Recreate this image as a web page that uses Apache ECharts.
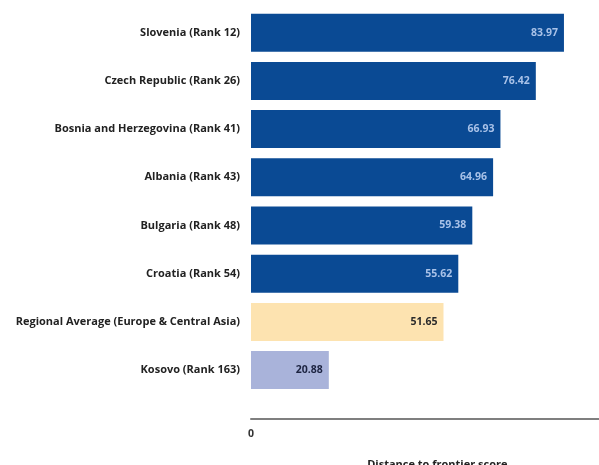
<!DOCTYPE html>
<html>
<head>
<meta charset="utf-8">
<script src="https://cdn.jsdelivr.net/npm/echarts@6/dist/echarts.min.js"></script>
<style>html,body{margin:0;padding:0;background:#fff;}#c{width:599px;height:465px;}</style>
</head>
<body>
<div id="c"></div>
<script>
const categories = [
  "Slovenia (Rank 12)",
  "Czech Republic (Rank 26)",
  "Bosnia and Herzegovina (Rank 41)",
  "Albania (Rank 43)",
  "Bulgaria (Rank 48)",
  "Croatia (Rank 54)",
  "Regional Average (Europe & Central Asia)",
  "Kosovo (Rank 163)"
];
const values = [83.97, 76.42, 66.93, 64.96, 59.38, 55.62, 51.65, 20.88];
const barColors = ["#0a4a94", "#0a4a94", "#0a4a94", "#0a4a94", "#0a4a94", "#0a4a94", "#fde3b0", "#a9b3da"];
const labelColors = ["#a9c2e8", "#a9c2e8", "#a9c2e8", "#a9c2e8", "#a9c2e8", "#a9c2e8", "#2a2a2a", "#1c2340"];
const xTickLabels = ["0"];

const font = "'Open Sans', sans-serif";
const chart = echarts.init(document.getElementById('c'));
chart.setOption({
  animation: false,
  grid: { left: 251, top: 8.6, height: 385.6, width: 372.7, containLabel: false, outerBoundsMode: 'none' },
  xAxis: {
    type: 'value', min: 0, max: 100, interval: 100,
    offset: 25,
    axisLine: { show: true, lineStyle: { color: '#7f7f7f', width: 2 } },
    axisTick: { show: false },
    splitLine: { show: false },
    axisLabel: {
      color: '#333', fontFamily: font, fontWeight: 'bold', fontSize: 10.5, margin: 9,
      formatter: function (v) { return v === 0 ? xTickLabels[0] : ''; }
    },
    name: 'Distance to frontier score',
    nameLocation: 'middle', nameGap: 40,
    nameTextStyle: { color: '#222', fontFamily: font, fontWeight: 'bold', fontSize: 11 }
  },
  yAxis: {
    type: 'category', inverse: true, data: categories,
    axisLine: { show: false }, axisTick: { show: false },
    axisLabel: { color: '#222', fontFamily: font, fontWeight: 'bold', fontSize: 11, margin: 11 }
  },
  series: [{
    type: 'bar', barWidth: 38,
    data: values.map((v, i) => ({
      value: v,
      itemStyle: { color: barColors[i] },
      label: { color: labelColors[i] }
    })),
    label: {
      show: true, position: 'insideRight', distance: 6,
      fontFamily: font, fontWeight: 'bold', fontSize: 10.5,
      formatter: p => p.value.toFixed(2)
    }
  }]
});
</script>
</body>
</html>
